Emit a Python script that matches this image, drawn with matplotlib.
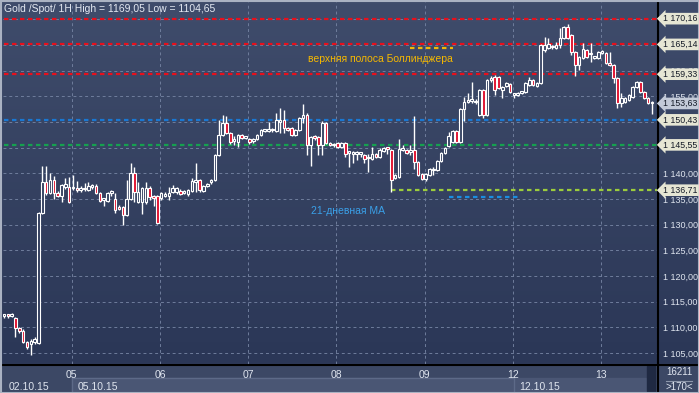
import numpy as np
import matplotlib
matplotlib.use('Agg')
import matplotlib.pyplot as plt
from matplotlib.colors import LinearSegmentedColormap
from matplotlib.patches import Rectangle

plt.rcParams['font.family'] = ['Liberation Sans', 'DejaVu Sans']

# hourly candles, Gold spot, 02.10.15 - 13.10.15
opens = [
    1112.2, 1112.4, 1112.2, 1111.8, 1109.8, 1109.3, 1107.1, 1106.7, 1107.1, 1106.9,
    1132.3, 1138.3, 1136.2, 1138.7, 1136.2, 1135.6, 1137.3, 1137.3, 1137.1, 1137.1,
    1136.8, 1137.1, 1136.7, 1137.3, 1137.5, 1136.2, 1134.8, 1134.6, 1136.2, 1135.0,
    1133.4, 1133.4, 1131.9, 1135.0, 1140.1, 1134.4, 1134.4, 1134.4, 1137.1, 1135.4,
    1135.6, 1135.2, 1135.6, 1135.6, 1136.4, 1136.4, 1136.6, 1136.2, 1136.0, 1136.6,
    1138.3, 1138.7, 1136.6, 1137.5, 1138.3, 1138.7, 1143.6, 1147.5, 1149.8, 1147.9,
    1146.3, 1146.1, 1147.5, 1146.9, 1146.7, 1146.3, 1146.7, 1147.5, 1148.3, 1148.3,
    1148.5, 1148.3, 1150.0, 1150.4, 1148.8, 1148.8, 1147.5, 1148.5, 1150.8, 1151.4,
    1145.5, 1147.1, 1147.1, 1145.5, 1149.8, 1145.9, 1145.5, 1145.9, 1145.1, 1145.9,
    1144.0, 1143.8, 1143.8, 1143.8, 1143.6, 1143.0, 1142.8, 1143.8, 1143.2, 1144.4,
    1144.9, 1144.6, 1139.1, 1139.3, 1144.6, 1144.6, 1144.2, 1144.6, 1142.2, 1139.9,
    1138.9, 1139.7, 1140.6, 1140.6, 1142.4, 1144.0, 1145.3, 1146.1, 1148.3, 1146.1,
    1152.5, 1153.9, 1154.1, 1153.9, 1151.4, 1156.2, 1151.4, 1158.2, 1158.8, 1158.8,
    1156.2, 1157.0, 1157.4, 1155.3, 1155.3, 1155.7, 1155.9, 1157.2, 1158.2, 1157.0,
    1157.6, 1164.0, 1164.4, 1164.6, 1164.4, 1165.0, 1166.4, 1168.5, 1167.0, 1163.7,
    1161.1, 1162.5, 1164.0, 1163.3, 1162.5, 1162.5, 1163.5, 1163.5, 1161.5, 1161.1,
    1158.6, 1153.7, 1153.9, 1154.3, 1154.9, 1156.8, 1157.8, 1155.9, 1154.7, 1153.9,
]
highs = [
    1112.6, 1112.6, 1112.8, 1112.0, 1110.0, 1109.6, 1107.4, 1107.6, 1108.0, 1132.5,
    1141.4, 1141.4, 1140.1, 1139.4, 1136.6, 1138.0, 1139.0, 1139.3, 1139.7, 1138.5,
    1137.5, 1138.1, 1138.3, 1138.0, 1137.9, 1136.4, 1135.1, 1136.4, 1136.7, 1136.2,
    1133.8, 1133.6, 1138.7, 1142.0, 1141.2, 1138.3, 1137.3, 1138.3, 1137.5, 1135.8,
    1135.8, 1136.4, 1136.3, 1137.3, 1137.7, 1137.3, 1136.9, 1136.8, 1136.9, 1139.1,
    1142.0, 1138.9, 1137.7, 1138.1, 1138.9, 1143.8, 1150.4, 1151.4, 1151.2, 1148.1,
    1147.3, 1147.7, 1147.7, 1147.3, 1146.9, 1146.8, 1147.7, 1148.7, 1148.7, 1150.0,
    1148.8, 1151.8, 1152.7, 1152.3, 1149.1, 1149.0, 1148.7, 1151.0, 1153.5, 1151.8,
    1147.3, 1147.4, 1147.3, 1150.2, 1150.0, 1146.1, 1145.9, 1146.1, 1146.1, 1146.1,
    1144.4, 1144.4, 1144.4, 1144.2, 1143.8, 1143.8, 1145.1, 1144.0, 1144.9, 1145.1,
    1145.1, 1144.8, 1139.9, 1146.7, 1145.5, 1144.8, 1145.5, 1151.2, 1142.4, 1140.1,
    1140.1, 1141.0, 1141.2, 1142.6, 1144.2, 1145.1, 1148.1, 1148.5, 1148.5, 1152.7,
    1154.9, 1155.7, 1157.8, 1154.4, 1156.4, 1156.4, 1158.4, 1159.0, 1159.2, 1159.0,
    1157.0, 1157.8, 1157.6, 1155.6, 1155.9, 1156.1, 1157.8, 1158.8, 1158.4, 1157.8,
    1165.2, 1166.6, 1166.4, 1165.0, 1165.6, 1168.3, 1168.7, 1169.05, 1167.2, 1163.9,
    1162.9, 1165.4, 1164.2, 1165.4, 1162.9, 1163.9, 1164.1, 1163.7, 1163.7, 1161.3,
    1158.8, 1155.7, 1154.9, 1155.5, 1157.0, 1158.0, 1158.0, 1156.1, 1154.9, 1154.1,
]
lows = [
    1111.8, 1111.8, 1111.9, 1108.1, 1108.9, 1106.9, 1105.7, 1104.65, 1106.8, 1106.7,
    1132.0, 1135.8, 1135.9, 1135.0, 1135.4, 1134.4, 1136.9, 1134.2, 1136.8, 1136.4,
    1136.4, 1136.6, 1136.5, 1137.0, 1135.9, 1134.4, 1133.6, 1134.4, 1135.5, 1132.3,
    1132.8, 1129.9, 1131.7, 1134.8, 1134.4, 1134.2, 1132.1, 1134.0, 1134.8, 1133.6,
    1130.1, 1134.8, 1135.4, 1134.8, 1136.2, 1136.0, 1135.8, 1135.9, 1135.6, 1136.4,
    1136.4, 1136.4, 1136.3, 1137.3, 1138.0, 1138.5, 1143.4, 1147.2, 1147.7, 1145.8,
    1145.5, 1145.1, 1146.7, 1146.6, 1145.8, 1146.0, 1146.5, 1147.3, 1148.0, 1148.1,
    1148.1, 1148.1, 1147.9, 1147.9, 1148.2, 1147.3, 1147.3, 1148.3, 1149.8, 1143.6,
    1141.4, 1146.5, 1143.6, 1143.6, 1145.7, 1145.3, 1145.2, 1144.9, 1144.9, 1143.2,
    1141.2, 1142.0, 1142.6, 1143.2, 1142.0, 1140.3, 1142.6, 1143.0, 1143.0, 1144.2,
    1143.8, 1136.4, 1138.9, 1139.1, 1144.4, 1143.8, 1143.6, 1140.8, 1139.5, 1138.7,
    1138.5, 1139.5, 1139.7, 1140.4, 1142.2, 1143.8, 1145.1, 1145.9, 1145.9, 1145.9,
    1150.2, 1153.7, 1153.7, 1153.6, 1151.2, 1150.8, 1151.2, 1157.9, 1155.3, 1156.4,
    1154.7, 1156.8, 1155.7, 1154.7, 1155.1, 1155.5, 1155.7, 1157.0, 1157.0, 1156.8,
    1157.4, 1163.7, 1164.2, 1164.3, 1164.2, 1164.4, 1166.2, 1166.2, 1163.1, 1159.0,
    1160.2, 1162.3, 1162.5, 1161.7, 1162.3, 1162.3, 1163.3, 1161.3, 1160.9, 1157.6,
    1152.7, 1152.9, 1153.7, 1154.1, 1154.7, 1156.6, 1155.7, 1154.5, 1153.5, 1151.6,
]
closes = [
    1112.4, 1112.2, 1112.4, 1109.8, 1109.3, 1107.1, 1106.2, 1107.3, 1107.7, 1132.3,
    1138.3, 1136.2, 1138.7, 1136.2, 1135.6, 1137.7, 1137.9, 1134.4, 1137.3, 1136.8,
    1137.1, 1136.9, 1137.5, 1137.7, 1136.2, 1134.6, 1134.9, 1136.2, 1136.3, 1132.9,
    1133.0, 1131.9, 1135.0, 1140.1, 1136.4, 1136.4, 1137.1, 1137.1, 1135.4, 1135.2,
    1130.3, 1136.2, 1136.0, 1136.2, 1137.1, 1137.1, 1136.0, 1136.4, 1136.7, 1138.5,
    1138.7, 1136.7, 1137.5, 1137.9, 1138.7, 1143.6, 1147.5, 1149.8, 1147.9, 1146.1,
    1146.5, 1147.5, 1146.9, 1147.1, 1146.1, 1146.6, 1147.5, 1148.5, 1148.5, 1148.5,
    1148.4, 1150.4, 1150.4, 1148.8, 1148.4, 1147.5, 1148.5, 1150.8, 1151.4, 1145.5,
    1147.1, 1146.9, 1145.5, 1149.8, 1145.9, 1145.5, 1145.6, 1145.1, 1145.9, 1143.8,
    1144.1, 1143.9, 1143.8, 1143.9, 1142.8, 1142.9, 1143.8, 1143.2, 1144.6, 1144.9,
    1144.8, 1138.7, 1139.7, 1144.8, 1144.9, 1144.0, 1144.6, 1142.2, 1139.7, 1138.9,
    1139.9, 1140.8, 1140.8, 1142.4, 1144.0, 1144.9, 1147.3, 1148.3, 1146.1, 1152.5,
    1153.9, 1154.3, 1154.2, 1154.1, 1156.2, 1151.4, 1158.2, 1158.6, 1156.2, 1156.6,
    1156.8, 1157.6, 1155.9, 1155.4, 1155.7, 1155.9, 1157.6, 1158.2, 1157.2, 1157.6,
    1165.0, 1165.0, 1165.2, 1164.7, 1165.0, 1166.4, 1168.5, 1166.4, 1163.7, 1161.1,
    1162.7, 1164.2, 1162.7, 1163.2, 1162.7, 1163.7, 1163.9, 1161.5, 1161.1, 1158.6,
    1153.7, 1154.7, 1154.7, 1155.3, 1156.8, 1157.8, 1155.9, 1154.7, 1153.7, 1153.63,
]

# first candle of each trading day
day_start = [18, 41, 64, 87, 110, 133, 156]
day_labels = ['05', '06', '07', '08', '09', '12', '13']
week_labels = ['02.10.15', '05.10.15', '12.10.15']

# horizontal levels drawn on the chart
levels = [1170.16, 1165.14, 1159.33, 1150.43, 1145.55, 1136.71]
level_colors = ['#e8101c', '#e8101c', '#e8101c', '#1a78d2', '#16a050', '#9ccc3c']
level_from = [0, 0, 0, 0, 0, 101]
last_price = 1153.63
# scale labels left visible (the others sit fully under the value boxes)
scale_ticks = [1105, 1110, 1115, 1120, 1125, 1130, 1135, 1140, 1155, 1160]

W, H = 699, 393
px = lambda v: v / W
py = lambda v: v / H

fig = plt.figure(figsize=(6.99, 3.93), dpi=100)
grad = LinearSegmentedColormap.from_list('bg', ['#2b3757', '#3f4c6b'])

# background canvas in pixel units
bg = fig.add_axes([0, 0, 1, 1], zorder=0)
bg.set_xlim(0, W)
bg.set_ylim(H, 0)
bg.axis('off')
bg.imshow(np.linspace(1, 0, 100)[:, None], cmap=grad, aspect='auto',
          extent=[0, W, 364, 0], zorder=0)
bg.add_patch(Rectangle((0, 364), W, 29, color='#3c4865', zorder=1))
bg.add_patch(Rectangle((72, 378), 574, 13, color='#4a5674', zorder=1))
bg.plot([72, 514], [378, 378], color='#5d6a88', lw=1, zorder=2)
bg.plot([72, 72], [378, 391], color='#5d6a88', lw=1, zorder=2)
bg.plot([514, 514], [378, 391], color='#5d6a88', lw=1, zorder=2)
bg.add_patch(Rectangle((647, 366), 8, 25, color='#1f2942', zorder=2))
bg.plot([0, W], [364.5, 364.5], color='black', lw=1.5, zorder=3)
bg.plot([657.5, 657.5], [0, H], color='black', lw=1.5, zorder=3)
bg.plot([666, 692], [380.5, 380.5], color='#8c96aa', lw=0.8, zorder=3)
bg.text(679, 372, '16211', color='#dfe5ef', fontsize=7, ha='center', va='center')
bg.text(679, 387, '>170<', color='#dfe5ef', fontsize=7, ha='center', va='center')
bg.add_patch(Rectangle((0.5, 0.5), W - 1, H - 1, fill=False, ec='#aab2c2', lw=1.5, zorder=5))

ax = fig.add_axes([px(3), py(29), px(654), py(362)], zorder=1)
ax.set_facecolor('none')
x = np.arange(len(closes))
ax.set_xlim(-0.26, 170.32)
ax.set_ylim(1102.82, 1173.41)
for s in ax.spines.values():
    s.set_visible(False)

# grid
for gy in np.arange(1105, 1171, 5):
    ax.axhline(gy, color='#6f7d9c', lw=0.7, ls=(0, (3, 3)), zorder=1)
day_x = np.array(day_start) - 0.3
for gx in day_x:
    ax.axvline(gx, color='#6f7d9c', lw=0.7, ls=(0, (3, 3)), zorder=1)

# levels
for lv, c, f in zip(levels, level_colors, level_from):
    ax.hlines(lv, f, 170.32, color=c, lw=1.6, linestyles=(0, (2, 1.6)), zorder=2)
ax.hlines(1164.4, 106, 117, color='#f2b705', lw=1.6, linestyles=(0, (2, 1.6)), zorder=2)
ax.hlines(1135.4, 116, 134, color='#1a8ee0', lw=1.6, linestyles=(0, (2, 1.6)), zorder=2)
ax.text(79.3, 1162.3, 'верхняя полоса Боллинджера', color='#f5b800', fontsize=7.5,
        va='center', ha='left', zorder=5)
ax.text(80.1, 1132.7, '21-дневная МА', color='#3aa0e8', fontsize=7.5,
        va='center', ha='left', zorder=5)

# candles
o = np.array(opens)
c = np.array(closes)
ax.vlines(x, lows, highs, color='white', lw=1, zorder=3)
bottom = np.minimum(o, c)
height = np.maximum(np.abs(c - o), 0.3)
fr = (bottom + height / 2 - 1102.82) / (1173.41 - 1102.82)
faces = [grad(f) if cc >= oo else '#e0102e' for f, oo, cc in zip(fr, o, c)]
ax.bar(x, height, bottom=bottom, width=0.68, color=faces, edgecolor='white',
       lw=0.8, zorder=4)

# price scale
ax.yaxis.tick_right()
ax.set_yticks(scale_ticks)
ax.set_yticklabels([('1 %.2f' % (v - 1000)).replace('.', ',') for v in scale_ticks])
ax.tick_params(axis='y', length=0, pad=4, labelsize=6.5, labelcolor='#dfe5ef')
ax.set_xticks(day_x)
ax.set_xticklabels(day_labels)
ax.tick_params(axis='x', length=0, pad=4, labelsize=7.5, labelcolor='#dfe5ef')

for pos, lab in zip([-0.26, 17.7, 132.7], week_labels):
    ax.annotate(lab, xy=(pos, 0), xycoords=('data', 'axes fraction'),
                xytext=(6, -23), textcoords='offset pixels', color='#dfe5ef',
                fontsize=7.5, ha='left', va='center', annotation_clip=False)

# value boxes on the price scale
for lv in levels + [last_price]:
    fc = '#c3cad8' if lv == last_price else '#e6e6d4'
    lab = ('1 %.2f' % (lv - 1000)).replace('.', ',')
    ax.annotate(lab, xy=(1, lv), xycoords=('axes fraction', 'data'),
                xytext=(6, 0), textcoords='offset pixels', color='#151b28',
                fontsize=6.3, ha='left', va='center', annotation_clip=False, zorder=10,
                bbox=dict(boxstyle='larrow,pad=0.15', fc=fc, ec='none'))

fig.text(px(4), 1 - py(9), 'Gold /Spot/ 1H High = 1169,05 Low = 1104,65',
         color='#e4e9f2', fontsize=7.5, ha='left', va='center')

fig.savefig('out.png', dpi=100)
